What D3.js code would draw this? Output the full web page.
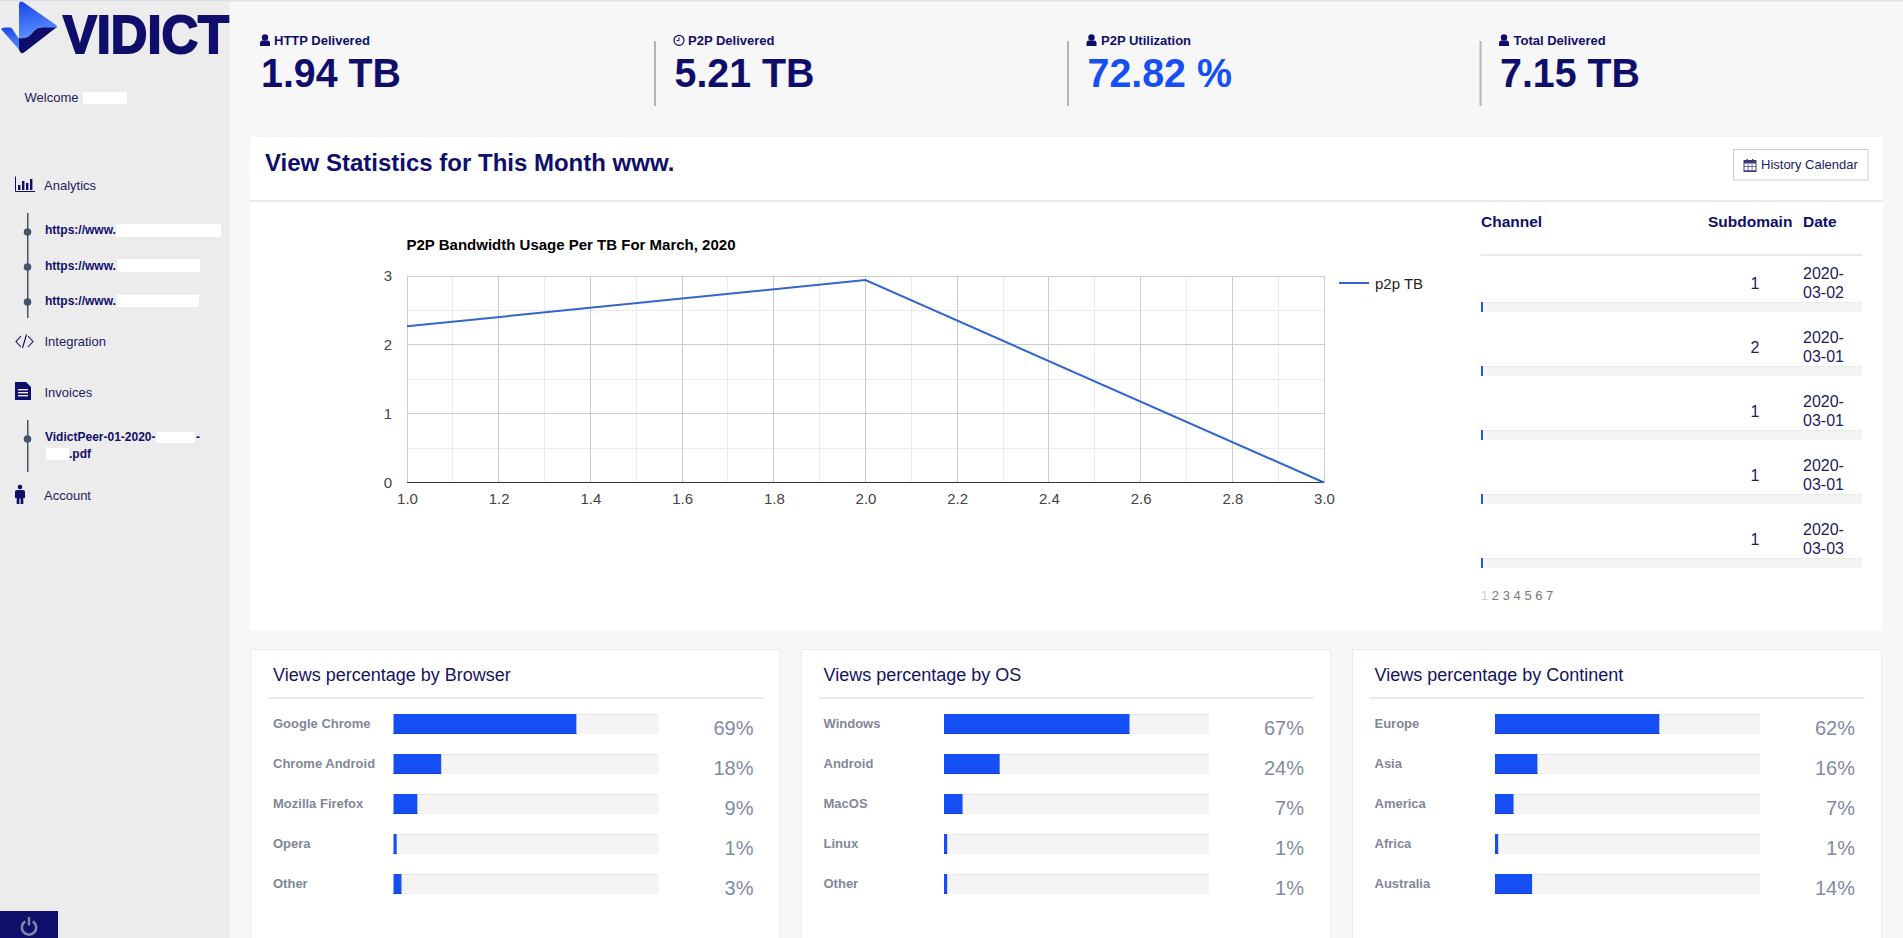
<!DOCTYPE html>
<html>
<head>
<meta charset="utf-8">
<script src="https://cdn.jsdelivr.net/npm/d3@7"></script>
<style>
html,body{margin:0;padding:0;background:#f7f7f7;overflow:hidden}
svg{display:block}
text{font-family:"Liberation Sans",Arial,sans-serif}
.axis .domain{display:none}
</style>
</head>
<body>
<div id="page"></div>
<script>
// values
const statLabels = ['HTTP Delivered','P2P Delivered','P2P Utilization','Total Delivered'];
const statValues = ['1.94 TB','5.21 TB','72.82 %','7.15 TB'];
const statIcons = ['user','clock','user','user'];
const statX = [261,674.5,1087.5,1500];

const p2pDays = [1,2,3];
const p2pTB = [2.27,2.94,0];
const xTicks = [1.0,1.2,1.4,1.6,1.8,2.0,2.2,2.4,2.6,2.8,3.0];
const xMinor = [1.1,1.3,1.5,1.7,1.9,2.1,2.3,2.5,2.7,2.9];
const yTicks = [0,1,2,3];
const yMinor = [0.5,1.5,2.5];

const tableSubdomain = [1,2,1,1,1];
const tableDate = ['2020-03-02','2020-03-01','2020-03-01','2020-03-01','2020-03-03'];
const tableShare = [0.5,0.5,0.5,0.5,0.5];
const pages = ['1','2','3','4','5','6','7'];

const browserNames = ['Google Chrome','Chrome Android','Mozilla Firefox','Opera','Other'];
const browserValues = [69,18,9,1,3];
const browserBars = [69,18,9,1.2,3];
const osNames = ['Windows','Android','MacOS','Linux','Other'];
const osValues = [67,24,7,1,1];
const osBars = [70,21,7,1.2,1.2];
const continentNames = ['Europe','Asia','America','Africa','Australia'];
const continentValues = [62,16,7,1,14];
const continentBars = [62,16,7,1.2,14];

const navy = '#0f0f6b';
const blue = '#1650f5';
const w = 1903;
const h = 938;

const svg = d3.select('#page').append('svg').attr('width',w).attr('height',h);

function rect(parent,x,y,width,height,fill) {
       return parent.append('rect').attr('x',x).attr('y',y).attr('width',width).attr('height',height).attr('fill',fill);
}
function label(parent,str,x,y,size,color,weight) {
       return parent.append('text').text(str)
              .attr('x',x).attr('y',y)
              .attr('font-size',size).attr('fill',color)
              .attr('font-weight',weight || 'normal');
}

//icons
function icon(name,x,y,color) {
       const g = svg.append('g').attr('transform','translate('+x+','+y+')').attr('fill',color);
       if (name === 'user') {
              g.append('circle').attr('cx',5).attr('cy',3).attr('r',3.2);
              g.append('path').attr('d','M0 11.5 V8.5 Q0 6 2.5 6 H7.5 Q10 6 10 8.5 V11.5 Z');
       }
       if (name === 'clock') {
              g.append('circle').attr('cx',5.5).attr('cy',5.8).attr('r',5).attr('fill','none').attr('stroke',color).attr('stroke-width',1.2);
              g.append('path').attr('d','M5.5 2.8 V6.1 H3').attr('fill','none').attr('stroke',color).attr('stroke-width',1);
       }
       return g;
}

//background
rect(svg,0,0,230,h,'#ececec');
rect(svg,0,0,w,1.5,'#dfe1e6');

//logo
const grad = svg.append('defs').append('linearGradient').attr('id','logoBlue')
       .attr('x1',0.2).attr('y1',0).attr('x2',0.4).attr('y2',1);
grad.append('stop').attr('offset','0%').attr('stop-color','#1a46e8');
grad.append('stop').attr('offset','100%').attr('stop-color','#5c93ff');
svg.append('path').attr('d','M1 29 Q2 27.5 5 27.5 H10 Q12 27.5 13 30 L19 39 L22 53 Z').attr('fill','url(#logoBlue)');
svg.append('path').attr('d','M19 38 Q28 39 32 33 Q36 27 43 27 H57 L24 52.5 Q22 54 20.5 52.5 L19 50 Z').attr('fill',navy);
svg.append('path').attr('d','M19 4 Q19.5 0.5 23 2 L56 25 Q58 27 56 27.5 H43 Q36 27 32 33 Q28 39 19 38 Z').attr('fill','url(#logoBlue)');
label(svg,'VIDICT',63,53,54,navy,'bold')
       .attr('textLength',166).attr('lengthAdjust','spacingAndGlyphs')
       .attr('stroke',navy).attr('stroke-width',2);

//sidebar
const sideText = '#1c1c63';
label(svg,'Welcome',24.5,102,13,sideText);
rect(svg,83,92,44,12,'#fff');

svg.append('path').attr('d','M15.5 176.5 V191.5 H35').attr('fill','none').attr('stroke',navy).attr('stroke-width',1);
svg.selectAll('.barIcon').data([[18,5],[22,9],[26,7],[30,11]]).enter().append('rect')
       .attr('class','barIcon').attr('x',d => d[0]).attr('y',d => 190-d[1]).attr('width',2.4).attr('height',d => d[1]).attr('fill',navy);
label(svg,'Analytics',44,190,13,sideText);

const timeline = '#44546a';
rect(svg,27,213,1.5,105,timeline);
const links = [[224,237,116,105,230,234],[259,272,117,83,265,270],[295,307,117,82,300,305]];
links.forEach(function(l){
       svg.append('circle').attr('cx',27.5).attr('cy',l[4]+2).attr('r',3.8).attr('fill',timeline);
       label(svg,'https://www.',45,l[5],12,navy,'bold');
       rect(svg,l[2],l[0],l[3],l[1]-l[0],'#fff');
});

svg.append('path').attr('d','M21 336 L16 341.5 L21 347 M28 336 L33 341.5 L28 347 M26.5 334.5 L22.5 348')
       .attr('fill','none').attr('stroke',navy).attr('stroke-width',1.1);
label(svg,'Integration',44.5,345.5,13,sideText);

svg.append('path').attr('d','M15 382 H26 L31 387 V400 H15 Z').attr('fill',navy);
rect(svg,18,389,10,1.4,'#ececec');
rect(svg,18,392,10,1.4,'#ececec');
rect(svg,18,395,10,1.4,'#ececec');
label(svg,'Invoices',44.5,397,13,sideText);

rect(svg,27,420,1.5,52,timeline);
svg.append('circle').attr('cx',27.5).attr('cy',439).attr('r',3.8).attr('fill',timeline);
label(svg,'VidictPeer-01-2020-',45,441,12,navy,'bold');
rect(svg,156,432,39,11,'#fff');
label(svg,'-',196,441,12,navy,'bold');
rect(svg,46,448,23,12,'#fff');
label(svg,'.pdf',69,458,12,navy,'bold');

svg.append('circle').attr('cx',20).attr('cy',487).attr('r',2.3).attr('fill',navy);
svg.append('path').attr('d','M15 492 Q15 490 17 490 H23 Q25 490 25 492 V498 H23.3 V504 H20.6 V498.5 H19.4 V504 H16.7 V498 H15 Z').attr('fill',navy);
label(svg,'Account',44,500,13,sideText);

rect(svg,0,911,58,27,navy);
svg.append('path').attr('d',d3.arc().innerRadius(5.9).outerRadius(8.4).startAngle(0.55).endAngle(2*Math.PI-0.55)())
       .attr('transform','translate(29,927.5)').attr('fill','#7d88a5');
rect(svg,27.8,917,2.4,8.5,'#7d88a5');

//stats row
statLabels.forEach(function(s,i){
       const x = statX[i];
       if (i > 0) rect(svg,x-20.5,41,2,65,'#b5b5b5');
       icon(statIcons[i],x-1,34.5,navy);
       label(svg,s,x+(i === 0 ? 13 : 13.5),44.5,13,navy,600);
       const value = label(svg,statValues[i],x,87,41,i === 2 ? blue : navy,'bold');
       value.attr('textLength',value.node().getComputedTextLength()*0.96).attr('lengthAdjust','spacingAndGlyphs');
});

//main panel
rect(svg,250,137,1633,493,'#fff');
rect(svg,250,200,1633,2,'#e8ecf0');
label(svg,'View Statistics for This Month www.',265,171,24,navy,'bold');

svg.append('rect').attr('x',1733.5).attr('y',149.5).attr('width',134.5).attr('height',30.5)
       .attr('fill','#fff').attr('stroke','#c9cdd2');
const cal = svg.append('g').attr('transform','translate(1744,159)');
cal.append('rect').attr('y',1.5).attr('width',12).attr('height',11).attr('fill','none').attr('stroke','#3a3a7a').attr('stroke-width',1);
rect(cal,0,1.5,12,3,'#3a3a7a');
rect(cal,2.5,0,1.4,3,'#3a3a7a');
rect(cal,8,0,1.4,3,'#3a3a7a');
[4,8].forEach(function(p){
       rect(cal,p-0.3,5,0.7,7,'#3a3a7a');
       rect(cal,0,p+3,12,0.7,'#3a3a7a');
});
label(svg,'History Calendar',1761,169,13,'#1c1c63');

//line chart
const plotLeft = 407;
const plotRight = 1324;
const plotTop = 276;
const plotBottom = 482.5;
const xScale = d3.scaleLinear().domain([1,3]).range([plotLeft,plotRight]);
const yScale = d3.scaleLinear().domain([0,3]).range([plotBottom,plotTop]);
const chart = svg.append('g');

label(chart,'P2P Bandwidth Usage Per TB For March, 2020',plotLeft-0.5,250,15,'#000','bold');

function gridLines(values,color) {
       chart.append('g').attr('shape-rendering','crispEdges').selectAll('line').data(values).enter().append('line')
              .attr('x1',d => xScale(d)).attr('x2',d => xScale(d))
              .attr('y1',plotTop).attr('y2',plotBottom).attr('stroke',color);
}
function gridRows(values,color) {
       chart.append('g').attr('shape-rendering','crispEdges').selectAll('line').data(values).enter().append('line')
              .attr('x1',plotLeft).attr('x2',plotRight)
              .attr('y1',d => yScale(d)).attr('y2',d => yScale(d)).attr('stroke',color);
}
gridLines(xMinor,'#ebebeb');
gridRows(yMinor,'#ebebeb');
gridLines(xTicks,'#cccccc');
gridRows(yTicks.slice(1),'#cccccc');

const xAxis = d3.axisBottom(xScale).tickValues(xTicks).tickFormat(d3.format('.1f')).tickSize(0).tickPadding(11);
const yAxis = d3.axisLeft(yScale).tickValues(yTicks).tickFormat(d3.format('d')).tickSize(0).tickPadding(15);
chart.append('g').attr('class','axis').attr('transform','translate(0,'+plotBottom+')').call(xAxis);
chart.append('g').attr('class','axis').attr('transform','translate('+plotLeft+',0)').call(yAxis);
chart.selectAll('.axis text').attr('font-size',15).attr('fill','#444').attr('font-family','"Liberation Sans",Arial,sans-serif');

chart.append('line').attr('x1',plotLeft).attr('x2',plotRight).attr('shape-rendering','crispEdges')
       .attr('y1',yScale(0)).attr('y2',yScale(0)).attr('stroke','#333');

const p2pLine = d3.line().x((d,i) => xScale(p2pDays[i])).y(d => yScale(d));
chart.append('path').attr('d',p2pLine(p2pTB)).attr('fill','none').attr('stroke','#3366cc').attr('stroke-width',2);

chart.append('line').attr('x1',1339).attr('x2',1369).attr('y1',283).attr('y2',283).attr('stroke','#3366cc').attr('stroke-width',2);
label(chart,'p2p TB',1375,288.5,15,'#222');

//table
const tableX = 1481;
const tableW = 381;
label(svg,'Channel',tableX,227,15.5,navy,'bold');
label(svg,'Subdomain',1708,227,15.5,navy,'bold');
label(svg,'Date',1803,227,15.5,navy,'bold');
rect(svg,tableX,254,tableW,2,'#e8ecf0');

const shareScale = d3.scaleLinear().domain([0,100]).range([0,tableW]);
const rowY = d3.scaleLinear().domain([0,1]).range([0,64]);
tableDate.forEach(function(d,i){
       const dy = rowY(i);
       label(svg,tableSubdomain[i],1755,289+dy,16,'#1c1c63').attr('text-anchor','middle');
       label(svg,d.slice(0,5),1803,279+dy,16,'#1c1c63');
       label(svg,d.slice(5),1803,298+dy,16,'#1c1c63');
       rect(svg,tableX,302+dy,tableW,10,'#f4f4f4');
       rect(svg,tableX,302+dy,tableW,1,'#e9e9e9');
       rect(svg,tableX,302+dy,shareScale(tableShare[i]),10,blue);
});

const pager = label(svg,'',tableX,600,13,'#777');
pages.forEach(function(p,i){
       pager.append('tspan').text(p+(i < pages.length-1 ? ' ' : '')).attr('fill',i === 0 ? '#ccc' : '#777');
});

//percentage cards
const cards = [
       {x:251,title:'Views percentage by Browser',names:browserNames,values:browserValues,bars:browserBars},
       {x:801.5,title:'Views percentage by OS',names:osNames,values:osValues,bars:osBars},
       {x:1352.5,title:'Views percentage by Continent',names:continentNames,values:continentValues,bars:continentBars}
];
const barScale = d3.scaleLinear().domain([0,100]).range([0,265]);
const cardRow = d3.scaleBand().domain([0,1,2,3,4]).range([714,914]).paddingInner(0).paddingOuter(0);

cards.forEach(function(c){
       svg.append('rect').attr('x',c.x).attr('y',649.5).attr('width',529).attr('height',300)
              .attr('fill','#fff').attr('stroke','#e8ecf0');
       label(svg,c.title,c.x+22,681,18,'#14145f');
       rect(svg,c.x+17,697,495,2,'#e8ebf0');
       const barX = c.x+142.5;
       c.names.forEach(function(n,i){
              const y = cardRow(i);
              label(svg,n,c.x+22,y+14,13,'#7f8899','bold');
              rect(svg,barX,y,265,20,'#f4f4f4');
              rect(svg,barX,y,265,1,'#e9e9e9');
              rect(svg,barX,y,barScale(c.bars[i]),20,blue);
              rect(svg,barX,y+19,barScale(c.bars[i]),1,'#1240d0');
              label(svg,c.values[i]+'%',c.x+502.5,y+21,20,'#7f8ba3').attr('text-anchor','end');
       });
});
</script>
</body>
</html>
